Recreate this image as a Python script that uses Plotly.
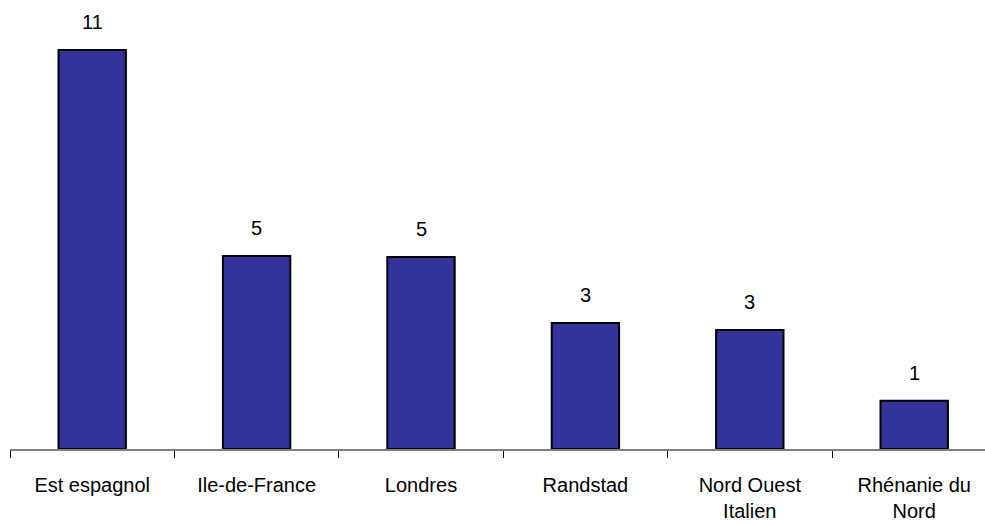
import plotly.graph_objects as go

# Regions and their scores
regions = ["Est espagnol", "Ile-de-France", "Londres", "Randstad",
           "Nord Ouest<br>Italien", "Rhénanie du<br>Nord"]
scores = [10.93, 5.29, 5.26, 3.45, 3.26, 1.32]

FONT = "Liberation Sans, Arial, sans-serif"

fig = go.Figure(
    go.Bar(
        x=regions,
        y=scores,
        width=0.41,
        marker=dict(color="#333399", line=dict(color="#000000", width=2)),
        hoverinfo="x+y",
    )
)

# value labels above each bar, rounded to whole numbers
for r, v in zip(regions, scores):
    fig.add_annotation(
        x=r, y=v, text=f"{v:.0f}", showarrow=False,
        yanchor="middle", yshift=28,
        font=dict(family=FONT, size=20, color="#000000"),
    )

fig.update_layout(
    width=985, height=524,
    margin=dict(l=10, r=0, t=20, b=75),
    paper_bgcolor="white", plot_bgcolor="white",
    showlegend=False,
    font=dict(family=FONT, size=20, color="#000000"),
    xaxis=dict(
        type="category",
        range=[-0.5, -0.5 + 975 / 164.4],
        showline=True, linecolor="#808080", linewidth=2,
        ticks="outside", tickson="boundaries", ticklen=7,
        tickcolor="#000000", tickwidth=1,
        ticklabelstandoff=17,
        showgrid=False, zeroline=False,
        tickfont=dict(family=FONT, size=20, color="#000000"),
    ),
    yaxis=dict(
        range=[0, 429 / 36.5],
        visible=False, showgrid=False, zeroline=False,
    ),
)

fig.write_html("out.html")
